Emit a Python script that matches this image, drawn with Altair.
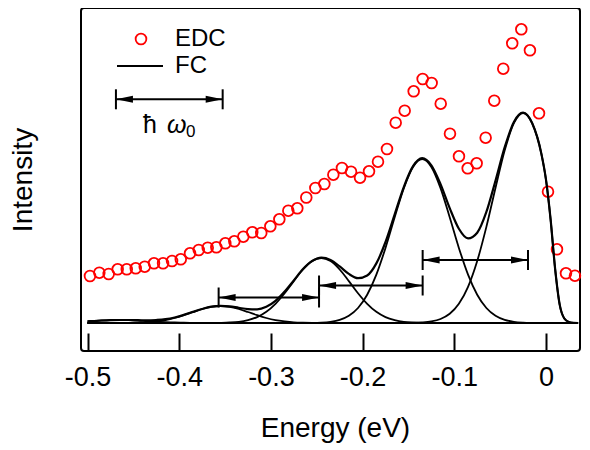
import altair as alt
import pandas as pd

# ---------------- data ----------------
edc_energy = [-0.4973, -0.4871, -0.4769, -0.4671, -0.4572, -0.4474, -0.4376, -0.4275, -0.4176, -0.4078,
              -0.3983, -0.3882, -0.3787, -0.3689, -0.3595, -0.3497, -0.3399, -0.3301, -0.3203, -0.3105,
              -0.3006, -0.2908, -0.2810, -0.2712, -0.2614, -0.2515, -0.2417, -0.2319, -0.2225, -0.2126,
              -0.2028, -0.1930, -0.1832, -0.1734, -0.1639, -0.1541, -0.1443, -0.1345, -0.1247, -0.1148,
              -0.1047, -0.0949, -0.0854, -0.0756, -0.0658, -0.0564, -0.0466, -0.0368, -0.0269, -0.0175,
              -0.0076, 0.0022, 0.0120, 0.0218, 0.0316]
edc_intensity = [47, 50.3, 49, 53.7, 53.7, 54.7, 56.3, 59.7, 59.7, 62,
                 63.7, 69.7, 73, 75.3, 75.7, 79.7, 81.7, 86.3, 90.7, 90,
                 96.7, 103.7, 112.3, 114.7, 125.5, 135, 139, 148.3, 155, 151.3,
                 145.3, 151.7, 161.3, 174, 200.3, 212.3, 231.7, 244, 240, 219.3,
                 189.3, 166.7, 154.7, 159.7, 185.3, 222.3, 254.3, 279.7, 293.7, 272.7,
                 209.7, 131.3, 73.7, 49.7, 47.3]

fc_energy = [-0.500, -0.495, -0.485, -0.475, -0.465, -0.455, -0.445, -0.435, -0.425, -0.415,
             -0.405, -0.395, -0.385, -0.375, -0.365, -0.355, -0.345, -0.335, -0.325, -0.315,
             -0.305, -0.295, -0.285, -0.275, -0.265, -0.255, -0.245, -0.235, -0.225, -0.215,
             -0.205, -0.195, -0.185, -0.175, -0.165, -0.155, -0.145, -0.135, -0.125, -0.115,
             -0.105, -0.095, -0.085, -0.075, -0.065, -0.055, -0.045, -0.035, -0.025, -0.015,
             -0.005, 0.000, 0.005, 0.010, 0.015, 0.020, 0.025, 0.030, 0.035]
fc_total = [1.7, 1.9, 2.5, 2.9, 3.0, 3.0, 2.8, 2.6, 3.0, 3.8,
            5.5, 8.1, 11.1, 14.0, 16.3, 17.2, 16.7, 15.2, 13.9, 13.7,
            16.2, 22.1, 31.4, 42.6, 53.9, 62.0, 65.4, 63.1, 56.6, 49.1,
            44.8, 47.5, 59.6, 81.0, 108.6, 136.2, 156.8, 164.8, 157.7, 138.9,
            114.9, 94.3, 84.6, 90.3, 111.1, 142.5, 175.8, 201.1, 210.4, 199.7,
            169.1, 143.3, 103.9, 53.9, 18.1, 4.5, 1.0, 0.2, 0.0]
fc_peak0 = [0] * 34 + [0.05, 0.1, 0.2, 0.6, 1.6, 4.0, 9.2, 19.2, 36.2, 62.0, 96.1, 135.3, 172.7, 199.9, 210.0,
                       199.6, 169.1, 143.3, 103.9, 53.9, 18.1, 4.5, 1.0, 0.2, 0.0]
fc_peak1 = [0] * 24 + [0.1, 0.14, 0.4, 1.2, 3.1, 7.2, 15.0, 28.3, 48.4, 75.1, 105.7, 134.9, 156.1, 164.0,
                       156.1, 134.9, 105.7, 75.1, 48.4, 28.3, 15.0, 7.2, 3.1, 1.2, 0.4, 0.1] + [0] * 9
fc_peak2 = [0] * 14 + [0.06, 0.2, 0.5, 1.2, 2.9, 5.9, 11.2, 19.2, 29.8, 41.9, 53.5, 61.9, 65.0, 61.9,
                       53.5, 41.9, 29.8, 19.2, 11.2, 5.9, 2.9, 1.2, 0.5, 0.2, 0.1] + [0] * 20
fc_peak3 = [0] * 4 + [0.05, 0.13, 0.3, 0.7, 1.6, 2.9, 5.0, 7.8, 11.0, 14.0, 16.2, 17.0, 16.2, 14.0,
                      11.0, 7.8, 5.0, 2.9, 1.6, 0.7, 0.3, 0.1] + [0] * 33
fc_peak4 = [1.65, 1.9, 2.5, 2.9, 3.0, 2.9, 2.5, 1.9, 1.4, 0.9, 0.5, 0.3, 0.1] + [0] * 46

arrow_start = [-0.357, -0.2475, -0.1345, -0.469]
arrow_end = [-0.2475, -0.1345, -0.0196, -0.3526]
arrow_level = [25.5, 37.5, 63.0, 223.7]

x_ticks = [-0.5, -0.4, -0.3, -0.2, -0.1, 0.0]
legend_labels = ["EDC", "FC"]

# ---------------- tables ----------------
edc_df = pd.DataFrame({"E": edc_energy, "I": edc_intensity})
comp_rows = []
for name, vals in [("p0", fc_peak0), ("p1", fc_peak1), ("p2", fc_peak2), ("p3", fc_peak3), ("p4", fc_peak4)]:
    for e, v in zip(fc_energy, vals):
        comp_rows.append({"E": e, "I": v, "comp": name})
comp_df = pd.DataFrame(comp_rows)
total_df = pd.DataFrame({"E": fc_energy, "I": fc_total})
arrow_df = pd.DataFrame({"E": arrow_start, "E2": arrow_end, "I": arrow_level})
ends_df = pd.DataFrame({"E": arrow_start + arrow_end,
                        "I": arrow_level + arrow_level,
                        "side": ["L"] * len(arrow_start) + ["R"] * len(arrow_end)})

FONT = "Liberation Sans"
xs = alt.Scale(domain=[-0.5071, 0.0371], nice=False, zero=False)
ys = alt.Scale(domain=[-28, 315], nice=False, zero=False)

x_axis = alt.Axis(values=x_ticks, labelExpr="datum.value == 0 ? '0' : toString(round(datum.value * 10) / 10)",
                  offset=-18, tickSize=18, tickWidth=2, tickColor="black", domain=False, grid=False,
                  labelFontSize=27, labelColor="black", labelPadding=13, labelFont=FONT,
                  title="Energy (eV)", titleFontSize=28, titleFontWeight="normal", titleColor="black",
                  titlePadding=24, titleFont=FONT, titleX=254)
y_axis = alt.Axis(title="Intensity", labels=False, ticks=False, domain=False, grid=False,
                  titleFontSize=28, titleFontWeight="normal", titleColor="black", titlePadding=44,
                  titleFont=FONT)

X = alt.X("E:Q", scale=xs, axis=x_axis)
Y = alt.Y("I:Q", scale=ys, axis=y_axis)

edc = alt.Chart(edc_df).mark_point(shape="circle", filled=False, color="#ff0000", size=115,
                                   strokeWidth=1.8, opacity=1).encode(x=X, y=Y)

comps = alt.Chart(comp_df).mark_line(color="black", strokeWidth=1.8, interpolate="monotone").encode(
    x=X, y=Y, detail="comp:N")
total = alt.Chart(total_df).mark_line(color="black", strokeWidth=2.2, interpolate="monotone").encode(
    x=X, y=Y)

arrow_lines = alt.Chart(arrow_df).mark_rule(color="black", strokeWidth=2).encode(
    x=X, x2="E2:Q", y=Y)
arrow_bars = alt.Chart(ends_df).mark_tick(color="black", orient="vertical", size=20, thickness=2,
                                          opacity=1).encode(x=X, y=Y)
arrow_heads = alt.Chart(ends_df).mark_point(filled=True, color="black", size=289, strokeWidth=0,
                                            opacity=1).encode(
    x=X, y=Y,
    shape=alt.Shape("side:N", legend=None,
                    scale=alt.Scale(domain=["L", "R"],
                                    range=["M0,0L2,-0.42L2,0.42Z", "M0,0L-2,-0.42L-2,0.42Z"])),
)

# ---------------- hand-placed legend ----------------
one = pd.DataFrame({"k": [0]})
leg_pt = alt.Chart(one).mark_point(shape="circle", filled=False, color="#ff0000", size=115,
                                   strokeWidth=1.8, opacity=1).encode(x=alt.value(60), y=alt.value(31))
leg_line = alt.Chart(one).mark_rule(color="black", strokeWidth=2).encode(
    x=alt.value(36), x2=alt.value(82), y=alt.value(58))
leg_t1 = alt.Chart(pd.DataFrame({"t": [legend_labels[0]]})).mark_text(
    align="left", baseline="middle", fontSize=24, font=FONT, color="black").encode(
    x=alt.value(94), y=alt.value(31), text="t:N")
leg_t2 = alt.Chart(pd.DataFrame({"t": [legend_labels[1]]})).mark_text(
    align="left", baseline="middle", fontSize=24, font=FONT, color="black").encode(
    x=alt.value(94), y=alt.value(58), text="t:N")
hbar = alt.Chart(pd.DataFrame({"t": ["ħ"]})).mark_text(
    align="left", baseline="alphabetic", fontSize=25, font=FONT, color="black").encode(
    x=alt.value(62), y=alt.value(125), text="t:N")
omega = alt.Chart(pd.DataFrame({"t": ["ω"]})).mark_text(
    align="left", baseline="alphabetic", fontSize=25, font=FONT, fontStyle="italic", color="black").encode(
    x=alt.value(86), y=alt.value(125), text="t:N")
sub0 = alt.Chart(pd.DataFrame({"t": ["0"]})).mark_text(
    align="left", baseline="alphabetic", fontSize=17, font=FONT, color="black").encode(
    x=alt.value(105), y=alt.value(129), text="t:N")

chart = alt.layer(
    edc, comps, total, arrow_lines, arrow_bars, arrow_heads,
    leg_pt, leg_line, leg_t1, leg_t2, hbar, omega, sub0
).properties(
    width=499, height=343,
    autosize=alt.AutoSizeParams(type="none"),
    padding={"left": 73, "top": 0, "right": 2, "bottom": 98},
).configure(font=FONT).configure_view(stroke="black", strokeWidth=2, cornerRadius=3)

chart.save("out.html", embed_options={"renderer": "svg", "actions": False})
